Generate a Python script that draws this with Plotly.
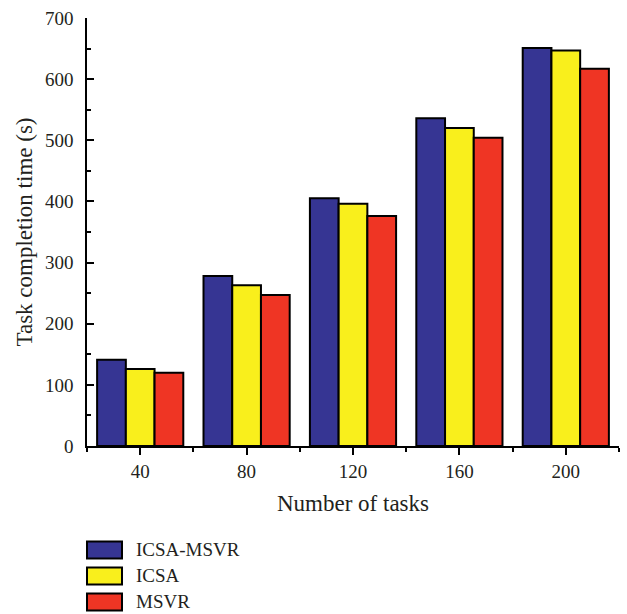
import plotly.graph_objects as go

tasks = [40, 80, 120, 160, 200]
icsa_msvr = [141, 278, 405, 536, 651]
icsa = [126, 263, 396, 520, 647]
msvr = [120, 247, 376, 504, 617]
series_names = ["ICSA-MSVR", "ICSA", "MSVR"]
colors = ["#363593", "#F9EF1C", "#EF3524"]

FONT = "Liberation Serif"

fig = go.Figure()
for name, vals, col in zip(series_names, [icsa_msvr, icsa, msvr], colors):
    fig.add_trace(go.Bar(x=tasks, y=vals, name=name, marker=dict(color=col, line=dict(color="black", width=2)),
                         showlegend=False))

# custom legend (swatches + labels) below the plot
for i, (name, col) in enumerate(zip(series_names, colors)):
    yc = 550 + i * 26
    fig.add_shape(type="rect", xref="paper", yref="paper",
                  x0=(87 - 87) / 532, x1=(122 - 87) / 532,
                  y0=(446 - (yc + 8.5)) / 428.3, y1=(446 - (yc - 8.5)) / 428.3,
                  fillcolor=col, line=dict(color="black", width=2))
    fig.add_annotation(xref="paper", yref="paper", x=(134 - 87) / 532, y=(446 - yc) / 428.3,
                       text=name, showarrow=False, xanchor="left", yanchor="middle",
                       font=dict(family=FONT, size=19, color="#231F20"))

fig.update_layout(
    width=627, height=614,
    margin=dict(l=87, r=8, t=18, b=168, pad=0),
    plot_bgcolor="white", paper_bgcolor="white",
    barmode="group", bargap=0.19, bargroupgap=0,
    font=dict(family=FONT, size=19, color="#231F20"),
    xaxis=dict(range=[20, 220], tickmode="array", tickvals=tasks, ticktext=[str(t) for t in tasks],
               ticks="outside", ticklen=7, tickwidth=1.5, tickcolor="black",
               showline=True, linecolor="black", linewidth=1.5, showgrid=False, zeroline=False,
               minor=dict(tick0=20, dtick=40, ticks="outside", ticklen=4, tickwidth=1.5, tickcolor="black"),
               title=dict(text="Number of tasks", standoff=14), fixedrange=True),
    yaxis=dict(range=[0, 700], dtick=100, tick0=0, ticks="inside", ticklen=7, tickwidth=1.5, tickcolor="black",
               showline=True, linecolor="black", linewidth=1.5, showgrid=False, zeroline=False,
               minor=dict(dtick=50, ticks="inside", ticklen=4, tickwidth=1.5, tickcolor="black"),
               ticklabelstandoff=8,
               title=dict(text="Task completion time (s)", standoff=6), fixedrange=True),
)

fig.write_html("out.html")
